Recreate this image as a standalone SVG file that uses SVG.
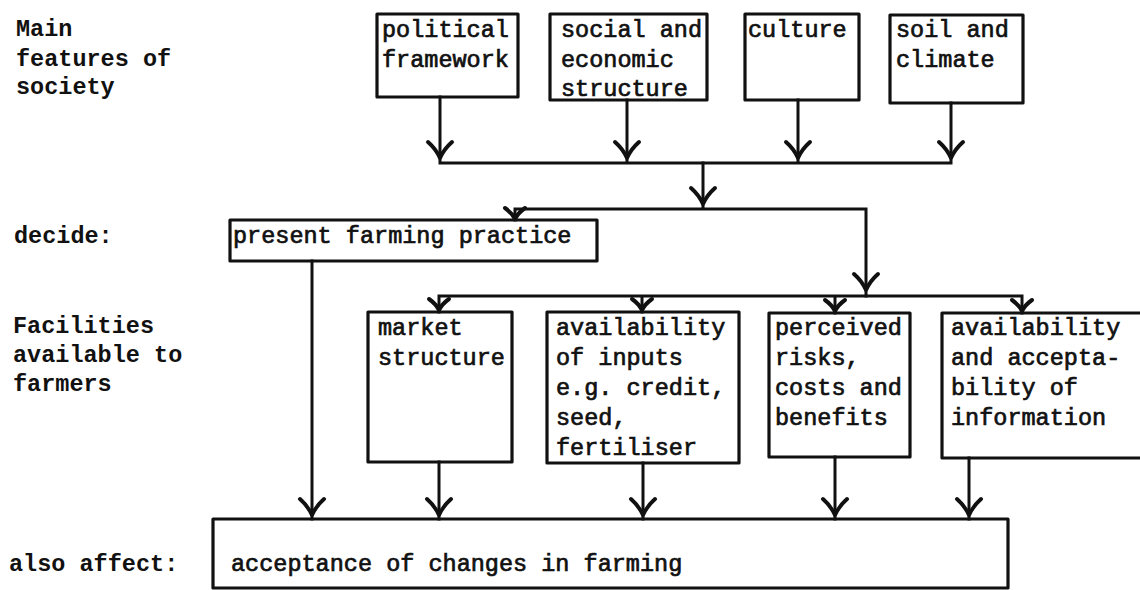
<svg xmlns="http://www.w3.org/2000/svg" xmlns:xlink="http://www.w3.org/1999/xlink" width="1140" height="590" viewBox="0 0 1140 590">
<style>
.bg{fill:#fff}
.box{fill:none;stroke:#111;stroke-width:3.2;stroke-linejoin:round}
.ln{fill:none;stroke:#111;stroke-width:3;stroke-linecap:square;stroke-linejoin:miter}
.lbl{font-family:"Liberation Mono","Courier New",monospace;font-size:23.5px;font-weight:bold;fill:#111}
.tx{font-family:"Liberation Mono","Courier New",monospace;font-size:23.5px;fill:#111;stroke:#111;stroke-width:0.7}
.chev{fill:none;stroke:#111;stroke-width:4;stroke-linecap:round;stroke-linejoin:round}
</style>
<defs>
<path id="chevL" class="chev" d="M-12,-16 Q-4,-9 0,0 Q4,-9 12,-16"/>
<path id="chevS" class="chev" d="M-10,-11 Q-3,-6 0,0 Q3,-6 10,-11"/>
</defs>
<rect class="bg" x="0" y="0" width="1140" height="590"/>

<g id="labels">
<text class="lbl" x="16" y="36">Main</text>
<text class="lbl" x="16" y="65.5">features of</text>
<text class="lbl" x="16" y="94">society</text>
<text class="lbl" x="14" y="243">decide:</text>
<text class="lbl" x="13" y="333">Facilities</text>
<text class="lbl" x="13" y="362">available to</text>
<text class="lbl" x="13" y="391">farmers</text>
<text class="lbl" x="9" y="571">also affect:</text>
</g>

<g id="connectors">
<path class="ln" d="M440,97 V163 M627,100 V163 M798,100 V163 M951,103 V163 M440,163 H951"/>
<path class="ln" d="M703,163 V209 M515,209 H866 M515,209 V220 M866,209 V296"/>
<path class="ln" d="M439,296 H1022 M439,296 V312 M642,296 V312 M835,296 V313 M1022,296 V313"/>
<path class="ln" d="M312,261 V519 M439,462 V519 M643,463 V519 M835,457 V519 M969,458 V519"/>
<use xlink:href="#chevL" x="440" y="158"/>
<use xlink:href="#chevL" x="627" y="158"/>
<use xlink:href="#chevL" x="798" y="158"/>
<use xlink:href="#chevL" x="951" y="158"/>
<use xlink:href="#chevL" x="703" y="204"/>
<use xlink:href="#chevS" x="515" y="219"/>
<use xlink:href="#chevL" x="866" y="290"/>
<use xlink:href="#chevS" x="439" y="310"/>
<use xlink:href="#chevS" x="642" y="310"/>
<use xlink:href="#chevS" x="835" y="311"/>
<use xlink:href="#chevS" x="1022" y="311"/>
<use xlink:href="#chevL" x="312" y="515"/>
<use xlink:href="#chevL" x="439" y="515"/>
<use xlink:href="#chevL" x="643" y="515"/>
<use xlink:href="#chevL" x="835" y="515"/>
<use xlink:href="#chevL" x="969" y="515"/>
</g>

<g id="political">
<rect class="box" x="377" y="14" width="141" height="83"/>
<text class="tx" x="382" y="37">political</text>
<text class="tx" x="382" y="66.5">framework</text>
</g>
<g id="social">
<rect class="box" x="550" y="14" width="157" height="86"/>
<text class="tx" x="561" y="37">social and</text>
<text class="tx" x="561" y="66.5">economic</text>
<text class="tx" x="561" y="96">structure</text>
</g>
<g id="culture">
<rect class="box" x="745" y="14" width="114" height="86"/>
<text class="tx" x="748" y="37">culture</text>
</g>
<g id="soil">
<rect class="box" x="890" y="15" width="133" height="88"/>
<text class="tx" x="896" y="37">soil and</text>
<text class="tx" x="896" y="66.5">climate</text>
</g>
<g id="present">
<rect class="box" x="230" y="220" width="367" height="41"/>
<text class="tx" x="233" y="243">present farming practice</text>
</g>
<g id="market">
<rect class="box" x="368" y="312" width="144" height="150"/>
<text class="tx" x="378" y="335">market</text>
<text class="tx" x="378" y="365">structure</text>
</g>
<g id="inputs">
<rect class="box" x="547" y="312" width="192" height="151"/>
<text class="tx" x="556" y="335">availability</text>
<text class="tx" x="556" y="365">of inputs</text>
<text class="tx" x="556" y="395">e.g. credit,</text>
<text class="tx" x="556" y="425">seed,</text>
<text class="tx" x="556" y="455">fertiliser</text>
</g>
<g id="perceived">
<rect class="box" x="769" y="313" width="141" height="144"/>
<text class="tx" x="775" y="335">perceived</text>
<text class="tx" x="775" y="365">risks,</text>
<text class="tx" x="775" y="395">costs and</text>
<text class="tx" x="775" y="425">benefits</text>
</g>
<g id="information">
<rect class="box" x="942" y="313" width="210" height="145"/>
<text class="tx" x="951" y="335">availability</text>
<text class="tx" x="951" y="365">and accepta-</text>
<text class="tx" x="951" y="395">bility of</text>
<text class="tx" x="951" y="425">information</text>
</g>
<g id="acceptance">
<rect class="box" x="213" y="519" width="795" height="69"/>
<text class="tx" x="231" y="571">acceptance of changes in farming</text>
</g>
</svg>
